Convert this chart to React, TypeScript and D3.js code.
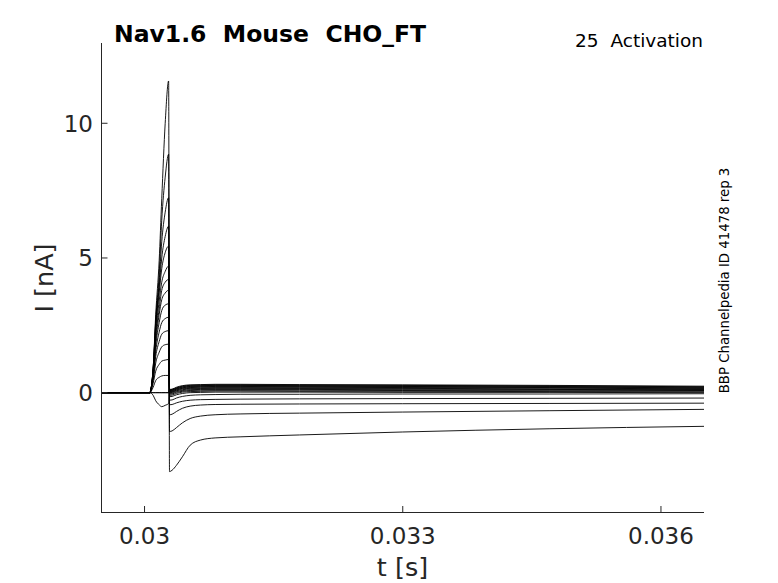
import { useEffect, useRef } from "react";
import * as d3 from "d3";

// sample times (s): baseline + rising phase of the test pulse
const STEP_T = [0.0295, 0.03006, 0.0301, 0.03013, 0.03017, 0.0302, 0.03024, 0.03028];
// sample times (s): tail after the pulse
const TAIL_T = [0.03029, 0.03032, 0.03037, 0.03044, 0.03053, 0.03065, 0.03082, 0.03111, 0.0318, 0.033, 0.0347, 0.0365];

// current (nA) at STEP_T[2..] for each sweep
const RISE = [
  [0.9, 2.9, 4.9, 7.2, 10.0, 11.57],
  [0.9, 2.7, 4.4, 6.4, 8.0, 8.85],
  [0.9, 2.6, 4.1, 5.6, 6.7, 7.24],
  [0.85, 2.5, 3.9, 5.0, 5.8, 6.18],
  [0.8, 2.4, 3.7, 4.6, 5.2, 5.44],
  [0.8, 2.2, 3.4, 4.1, 4.5, 4.7],
  [0.75, 2.1, 3.1, 3.8, 4.1, 4.2],
  [0.7, 1.9, 2.9, 3.45, 3.7, 3.8],
  [0.65, 1.75, 2.6, 3.05, 3.25, 3.3],
  [0.6, 1.55, 2.25, 2.6, 2.75, 2.8],
  [0.55, 1.35, 1.9, 2.17, 2.27, 2.3],
  [0.45, 1.1, 1.5, 1.7, 1.78, 1.8],
  [0.35, 0.8, 1.05, 1.17, 1.21, 1.23],
  [0.2, 0.45, 0.57, 0.62, 0.64, 0.64],
  [-0.1, -0.3, -0.45, -0.52, -0.47, -0.4],
  [0, 0, 0, 0, 0, 0],
  [0, 0, 0, 0, 0, 0],
];

// current (nA) at TAIL_T for each sweep
const TAIL = [
  [-2.93, -2.88, -2.7, -2.38, -1.95, -1.76, -1.68, -1.64, -1.57, -1.46, -1.34, -1.25],
  [-1.44, -1.42, -1.3, -1.12, -0.96, -0.87, -0.82, -0.79, -0.76, -0.72, -0.67, -0.62],
  [-0.82, -0.8, -0.7, -0.58, -0.5, -0.46, -0.44, -0.43, -0.42, -0.41, -0.4, -0.39],
  [-0.45, -0.44, -0.38, -0.32, -0.28, -0.26, -0.25, -0.24, -0.23, -0.22, -0.21, -0.2],
  [-0.28, -0.27, -0.2, -0.14, -0.1, -0.08, -0.07, -0.06, -0.06, -0.05, -0.05, -0.04],
  [-0.15, -0.14, -0.08, -0.03, 0.0, 0.01, 0.02, 0.02, 0.02, 0.01, 0.01, 0.0],
  [-0.1, -0.09, -0.03, 0.02, 0.04, 0.05, 0.06, 0.06, 0.05, 0.05, 0.04, 0.03],
  [-0.06, -0.05, 0.01, 0.05, 0.08, 0.09, 0.09, 0.09, 0.09, 0.08, 0.07, 0.06],
  [-0.03, -0.02, 0.04, 0.08, 0.11, 0.12, 0.12, 0.12, 0.12, 0.11, 0.1, 0.08],
  [0.0, 0.01, 0.07, 0.11, 0.14, 0.15, 0.15, 0.15, 0.15, 0.14, 0.12, 0.1],
  [0.02, 0.03, 0.09, 0.14, 0.16, 0.17, 0.18, 0.18, 0.17, 0.16, 0.14, 0.12],
  [0.04, 0.05, 0.11, 0.16, 0.19, 0.2, 0.2, 0.2, 0.2, 0.19, 0.17, 0.14],
  [0.06, 0.07, 0.13, 0.18, 0.21, 0.22, 0.23, 0.23, 0.22, 0.21, 0.19, 0.16],
  [0.08, 0.09, 0.15, 0.2, 0.23, 0.24, 0.25, 0.25, 0.24, 0.23, 0.21, 0.18],
  [0.09, 0.1, 0.16, 0.22, 0.25, 0.26, 0.27, 0.27, 0.26, 0.25, 0.23, 0.2],
  [0.1, 0.12, 0.18, 0.24, 0.27, 0.28, 0.29, 0.29, 0.28, 0.27, 0.25, 0.22],
  [0.12, 0.13, 0.2, 0.26, 0.29, 0.3, 0.31, 0.31, 0.3, 0.29, 0.27, 0.24],
];

const X_TICKS = [0.03, 0.033, 0.036];
const Y_TICKS = [0, 5, 10];
const FONT = "DejaVu Sans";
const AX = "#262626";

export default function App() {
  const svgRef = useRef<SVGSVGElement>(null);

  useEffect(() => {
    if (!svgRef.current) return;
    const W = 778, H = 583;
    const svg = d3.select(svgRef.current).attr("width", W).attr("height", H);
    svg.selectAll("*").remove();

    const x = d3.scaleLinear().domain([0.0295, 0.0365]).range([101.5, 704]);
    const y = d3.scaleLinear().domain([-4.43, 12.98]).range([512, 43]);

    svg.append("rect").attr("width", W).attr("height", H).attr("fill", "white");

    const line = d3.line<[number, number]>()
      .x(d => x(d[0])).y(d => y(d[1]))
      .curve(d3.curveMonotoneX);

    const traces = svg.append("g");
    RISE.forEach((rise, i) => {
      const pts: [number, number][] = [
        [STEP_T[0], 0],
        [STEP_T[1], 0],
        ...rise.map((v, j) => [STEP_T[j + 2], v] as [number, number]),
        ...TAIL[i].map((v, j) => [TAIL_T[j], v] as [number, number]),
      ];
      traces.append("path").attr("d", line(pts)).attr("fill", "none")
        .attr("stroke", "#000").attr("stroke-width", 0.9).attr("stroke-linejoin", "round");
    });

    // axes (left + bottom only)
    const axes = svg.append("g").attr("stroke", AX).attr("stroke-width", 1).attr("fill", "none");
    axes.append("line").attr("x1", 101.5).attr("x2", 101.5).attr("y1", 43).attr("y2", 512.5);
    axes.append("line").attr("x1", 101).attr("x2", 704).attr("y1", 512.5).attr("y2", 512.5);
    X_TICKS.forEach(v => {
      axes.append("line").attr("x1", x(v)).attr("x2", x(v)).attr("y1", 512).attr("y2", 506);
    });
    Y_TICKS.forEach(v => {
      axes.append("line").attr("x1", 101.5).attr("x2", 107.5).attr("y1", y(v)).attr("y2", y(v));
    });

    X_TICKS.forEach(v => {
      svg.append("text").attr("x", x(v)).attr("y", 544).attr("text-anchor", "middle")
        .attr("font-family", FONT).attr("font-size", 23).attr("fill", AX).text(String(v));
    });
    Y_TICKS.forEach(v => {
      svg.append("text").attr("x", 93).attr("y", y(v)).attr("dy", "0.36em").attr("text-anchor", "end")
        .attr("font-family", FONT).attr("font-size", 23).attr("fill", AX).text(String(v));
    });

    svg.append("text").attr("x", 402.5).attr("y", 576).attr("text-anchor", "middle")
      .attr("font-family", FONT).attr("font-size", 25.5).attr("fill", AX).text("t [s]");
    svg.append("text").attr("transform", "translate(53,278) rotate(-90)").attr("text-anchor", "middle")
      .attr("font-family", FONT).attr("font-size", 25.5).attr("fill", AX).text("I [nA]");

    svg.append("text").attr("x", 114).attr("y", 42)
      .attr("font-family", FONT).attr("font-weight", "bold").attr("font-size", 23.5).attr("fill", "#000")
      .style("white-space", "pre").text("Nav1.6  Mouse  CHO_FT");
    svg.append("text").attr("x", 703).attr("y", 47).attr("text-anchor", "end")
      .attr("font-family", FONT).attr("font-size", 18.5).attr("fill", "#000")
      .style("white-space", "pre").text("25  Activation");
    svg.append("text").attr("transform", "translate(729,280.5) rotate(-90)").attr("text-anchor", "middle")
      .attr("font-family", FONT).attr("font-size", 13.3).attr("fill", "#000")
      .text("BBP Channelpedia ID 41478 rep 3");
  }, []);

  return <svg ref={svgRef} style={{ position: "absolute", left: 0, top: 0 }} />;
}
